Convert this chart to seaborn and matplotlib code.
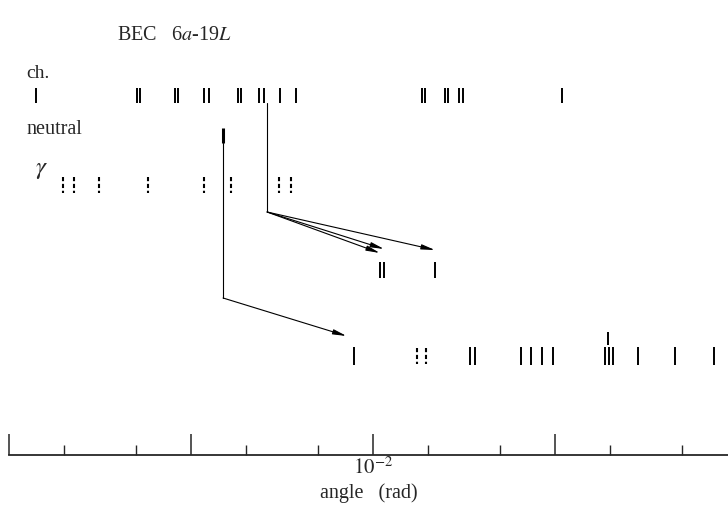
import numpy as np
import pandas as pd
import seaborn as sns
import matplotlib
matplotlib.use("Agg")
from matplotlib import pyplot as plt
from matplotlib.ticker import LogLocator, FuncFormatter, NullFormatter

# emission angles (rad)
ch_angles = [1.41e-4, 5.05e-4, 5.25e-4, 8.17e-4, 8.49e-4, 1.18e-3, 1.26e-3,
             1.81e-3, 1.88e-3, 2.36e-3, 2.52e-3, 3.08e-3, 3.77e-3,
             1.86e-2, 1.93e-2, 2.49e-2, 2.58e-2, 2.97e-2, 3.12e-2, 0.109]
neutral_angles = [1.50e-3]
gamma_angles = [1.98e-4, 2.28e-4, 3.12e-4, 5.80e-4, 1.18e-3, 1.66e-3, 3.05e-3, 3.54e-3]
ch_parent = 2.62e-3                      # charged track that interacts
sec_angles = [1.09e-2, 1.15e-2, 2.19e-2]  # its secondaries
final_solid = [7.87e-3, 3.41e-2, 3.63e-2, 6.50e-2, 7.38e-2, 8.49e-2, 9.75e-2,
               0.188, 0.198, 0.208, 0.286, 0.456, 0.748]
final_dashed = [1.75e-2, 1.96e-2]
final_upper = [0.196]

# row centres (drawing units, 0 = top, 455 = axis line)
row_y = {"ch": 95.5, "neutral": 135.5, "gamma": 185, "sec": 270, "final": 356, "upper": 338.5}

sns.set_style("white")
plt.rcParams["font.family"] = ["Liberation Serif", "DejaVu Serif"]
plt.rcParams["mathtext.fontset"] = "stix"

W, H = 728, 507
fig = plt.figure(figsize=(W / 100, H / 100), dpi=100)
ax = fig.add_axes([9 / W, (H - 455) / H, (W - 9) / W, 455 / H])
ax.set_xscale("log")
ax.set_xlim(1e-4, 0.892)
ax.set_ylim(455, 0)


def solid(angles, row, half=7.5, lw=1.4):
    d = pd.DataFrame({"angle": angles, "y": row_y[row]})
    ax.vlines(d["angle"], d["y"] - half, d["y"] + half, color="k", lw=lw)


def dashed(angles, row, half=8.0):
    d = pd.DataFrame({"angle": angles, "y": row_y[row]})
    ax.vlines(d["angle"], d["y"] - half, d["y"] + half, color="k", lw=1.5,
              linestyles=[(0, (2.0, 1.3))])


solid(ch_angles, "ch")
solid(neutral_angles, "neutral", lw=2.2)
dashed(gamma_angles, "gamma")
solid(sec_angles, "sec", half=8)
solid(final_solid, "final", half=9)
dashed(final_dashed, "final")
solid(final_upper, "upper", half=6.5)

arrow = dict(arrowstyle="-|>,head_length=0.8,head_width=0.15",
             color="k", lw=0.8, shrinkA=0, shrinkB=0)

# interaction of the charged track -> secondaries
vtx_c = 212
ax.plot([ch_parent, ch_parent], [row_y["ch"] + 7.5, vtx_c], color="k", lw=0.8)
for a, dy in zip(sec_angles, [-17, -21, -20]):
    ax.annotate("", xy=(a, row_y["sec"] + dy), xytext=(ch_parent, vtx_c), arrowprops=arrow)

# neutral -> final state
vtx_n = 298
na = neutral_angles[0]
ax.plot([na, na], [row_y["neutral"] + 7.5, vtx_n], color="k", lw=0.8)
ax.annotate("", xy=(final_solid[0] / 1.1, row_y["final"] - 20), xytext=(na, vtx_n),
            arrowprops=arrow)

# axis
sns.despine(ax=ax, left=True)
ax.spines["bottom"].set_linewidth(1.3)
ax.set_yticks([])
ax.xaxis.set_major_locator(LogLocator(base=10))
ax.xaxis.set_minor_locator(LogLocator(base=10, subs=[2, 5]))
ax.xaxis.set_major_formatter(FuncFormatter(
    lambda v, p: r"$10^{-2}$" if abs(np.log10(v) + 2) < 1e-6 else ""))
ax.xaxis.set_minor_formatter(NullFormatter())
ax.tick_params(axis="x", which="major", direction="in", length=15, width=1.1,
               labelsize=15, pad=2, bottom=True)
ax.tick_params(axis="x", which="minor", direction="in", length=7, width=1.0, bottom=True)
ax.set_xlabel("angle   (rad)", fontsize=14.5, labelpad=3)

# labels
fig.text(117 / W, 1 - 35 / H, r"BEC   6$a$-19$L$", fontsize=14.5, va="center", ha="left")
fig.text(26 / W, 1 - 73 / H, "ch.", fontsize=14, va="center", ha="left")
fig.text(26 / W, 1 - 129 / H, "neutral", fontsize=14.5, va="center", ha="left")
fig.text(35 / W, 1 - 170 / H, r"$\gamma$", fontsize=18, va="center", ha="left")

fig.savefig("out.png", dpi=100)
